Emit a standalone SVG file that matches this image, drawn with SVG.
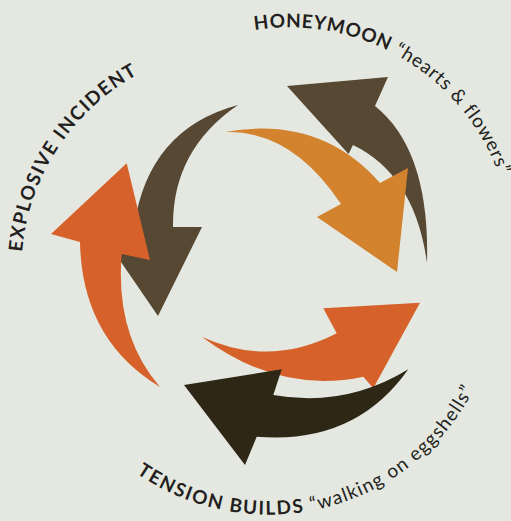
<svg xmlns="http://www.w3.org/2000/svg" width="511" height="521" viewBox="0 0 511 521">
  <defs>
    <style>
      .bg { fill: #e5e8e0; }
      .orange { fill: #d3822e; }
      .brown { fill: #574833; }
      .red { fill: #d6612a; }
      .dark { fill: #2e2716; }
      .lbl { font-family: Lato, "Noto Sans", "Liberation Sans", sans-serif; font-size: 19px; fill: #231f20; }
      .cap { font-weight: 700; }
      .low { font-weight: 400; }
    </style>
    <path id="arcTop" d="M254.7,30.1 A223,223 0 0 1 511.2,231.1"/>
    <path id="arcLeft" d="M22,252 A224.5,224.5 0 0 1 206.7,50.1"/>
    <path id="arcBottom" d="M136.5,473.2 A231,231 0 0 0 496,323.7"/>
  </defs>
  <rect class="bg" x="0" y="0" width="511" height="521"/>
  <g id="connectors">
    <path id="arrow-honeymoon-back" class="brown" d="M287,86 L388,77 L375,106 Q430,150 427,263 Q415,175 353,145 L348.5,154 Z"/>
    <path id="arrow-honeymoon" class="orange" d="M225,132 Q320,115 380,183 L408,168 L397,272 L317,217 L341,204 Q292,130 225,132 Z"/>
    <path id="arrow-explosive-back" class="brown" d="M238,105 Q148,129 134,227 L97,227 L158,316 L202,227 L173,227 Q172,150 238,105 Z"/>
    <path id="arrow-explosive" class="red" d="M126.7,163.3 L51,234 L80,242 Q82,340 160,387 Q115,335 121.7,254 L150,260 Z"/>
    <path id="arrow-tension" class="red" d="M201.7,336.7 Q270,368 336.7,333.3 L323.3,308.3 L420,302.7 L373.3,388.3 L363.3,376.7 Q280,395 201.7,336.7 Z"/>
    <path id="arrow-tension-back" class="dark" d="M184,385 L281.7,369.3 L273.3,395 Q345,408 408.3,369.3 Q355,445 256.7,436.7 L245,465 Z"/>
  </g>
  <g id="node-honeymoon">
    <text class="lbl"><textPath href="#arcTop"><tspan class="cap" letter-spacing="0.7">HONEYMOON</tspan><tspan class="low" letter-spacing="0.8"> “hearts &amp; flowers”</tspan></textPath></text>
  </g>
  <g id="node-explosive">
    <text class="lbl cap" letter-spacing="1.5"><textPath href="#arcLeft">EXPLOSIVE INCIDENT</textPath></text>
  </g>
  <g id="node-tension">
    <text class="lbl"><textPath href="#arcBottom"><tspan class="cap" letter-spacing="1.6">TENSION BUILDS</tspan><tspan class="low" letter-spacing="1.2"> “walking on eggshells”</tspan></textPath></text>
  </g>
</svg>
